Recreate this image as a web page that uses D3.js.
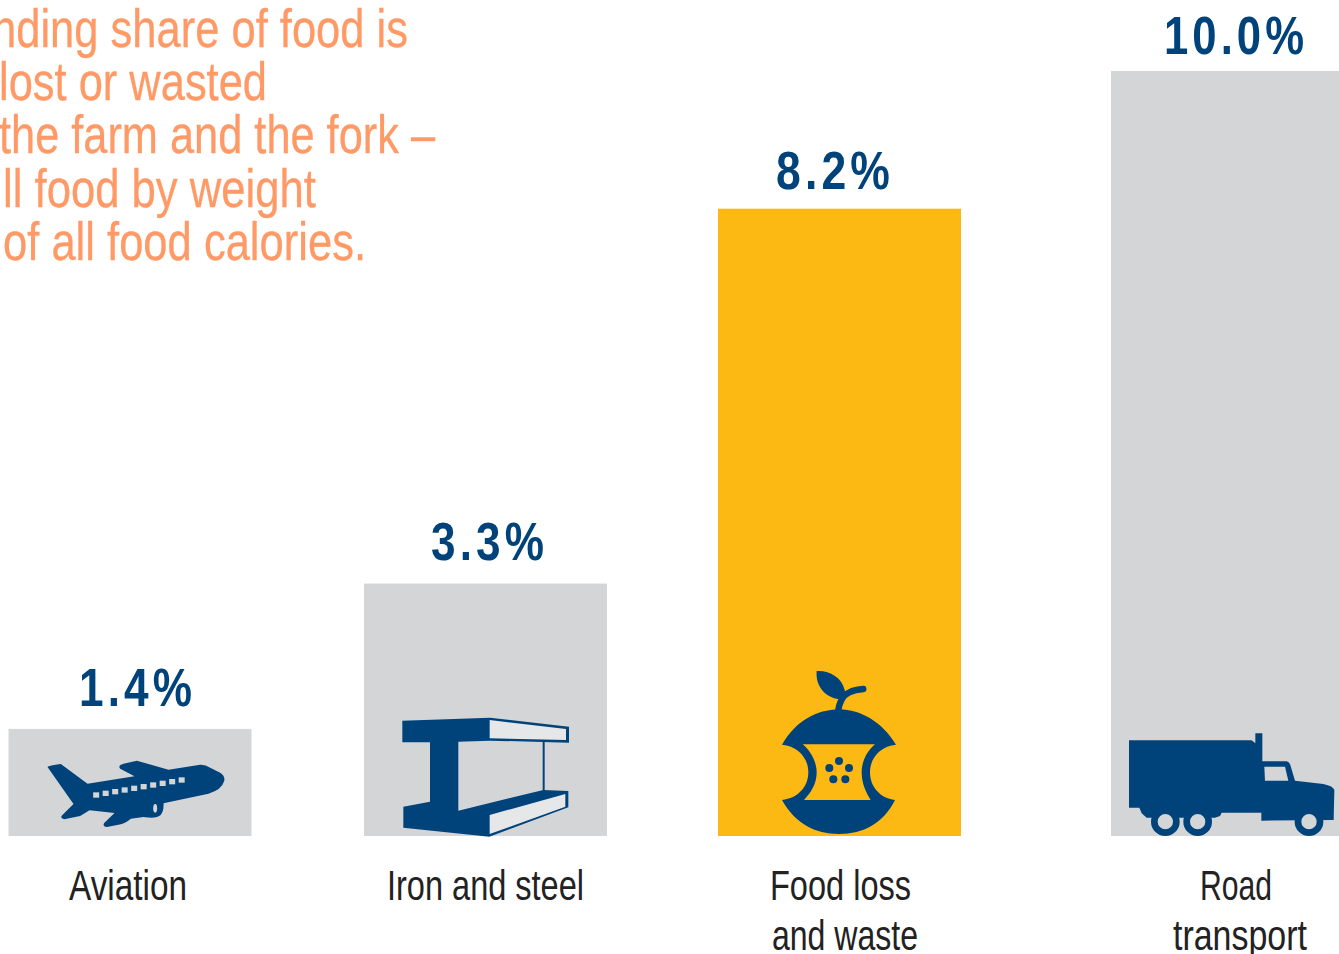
<!DOCTYPE html>
<html>
<head>
<meta charset="utf-8">
<script src="https://cdn.jsdelivr.net/npm/d3@7/dist/d3.min.js"></script>
<style>
html,body{margin:0;padding:0;background:#fff;overflow:hidden}
svg{display:block}
text{font-family:"Liberation Sans Narrow","Liberation Sans",Arial,sans-serif}
</style>
</head>
<body>
<svg id="chart" width="1339" height="954"></svg>
<script>
// Emission shares by sector
const categories = ["Aviation", "Iron and steel", "Food loss and waste", "Road transport"];
const shares = [1.4, 3.3, 8.2, 10.0];
const valueLabels = ["1.4%", "3.3%", "8.2%", "10.0%"];
const categoryLines = [["Aviation"], ["Iron and steel"], ["Food loss", "and waste"], ["Road", "transport"]];
const noteLines = ["nding share of food is", "lost or wasted", "the farm and the fork –", "ll food by weight", "of all food calories."];

// Layout
const barLefts = [8.5, 364, 718, 1111];
const barWidth = 243;
const baseline = 836, topY = 71;
const valueSpans = [[79, 196], [431, 548], [776, 894], [1164, 1308]];
const valueGaps = [23, 24, 20, 17];
const categorySpans = [[[69, 187]], [[387, 584]], [[770, 911], [772, 918]], [[1200, 1272], [1173, 1307]]];
const noteSpans = [[-8, 408], [-1, 267], [-1, 435], [3, 316], [3, 366]];
const noteBaselines = [47, 100, 153, 207, 260];

const navy = "#00437b", grey = "#d4d5d7", gold = "#fdb913", orange = "#ff9966", pale = "#e6e7e8";

const svg = d3.select("#chart");
const x = d3.scaleOrdinal().domain(categories).range(barLefts);
const y = d3.scaleLinear().domain([0, 10]).range([baseline, topY]);
const fills = d3.scaleOrdinal().domain(categories).range([grey, grey, gold, grey]);

// Text helper: fits a line to a measured horizontal span
function fitted(sel, str, span, by, size, weight, fill) {
  return sel.append("text")
    .attr("x", span[0]).attr("y", by)
    .attr("textLength", span[1] - span[0])
    .attr("lengthAdjust", "spacingAndGlyphs")
    .attr("font-size", size).attr("font-weight", weight)
    .attr("fill", fill).text(str);
}

// Bars
svg.selectAll("rect.bar").data(categories).join("rect")
  .attr("class", "bar")
  .attr("x", d => x(d))
  .attr("width", barWidth)
  .attr("y", (d, i) => y(shares[i]))
  .attr("height", (d, i) => baseline - y(shares[i]))
  .attr("fill", d => fills(d));

// Value labels, sitting above each bar with open tracking
valueLabels.forEach((t, i) =>
  fitted(svg, t, valueSpans[i], y(shares[i]) - valueGaps[i], 54, 700, navy)
    .attr("letter-spacing", 5));

// Category labels
categoryLines.forEach((lines, i) => lines.forEach((t, j) =>
  fitted(svg, t, categorySpans[i][j], 900 + j * 50, 42, 400, "#222")));

// Orange note
noteLines.forEach((t, i) => fitted(svg, t, noteSpans[i], noteBaselines[i], 54, 400, orange)
  .attr("stroke", orange).attr("stroke-width", 0.3));

// Icons are drawn at 3x and scaled down, anchored on each bar's lower-left corner
function icon(cat, ox, oy) {
  return svg.append("g").attr("transform",
    `translate(${x(cat)},${baseline}) scale(${1 / 3}) translate(${-ox},${-oy})`);
}

// Plane
const plane = icon("Aviation", 25, 557);
plane.append("path").attr("fill", navy).attr("d",
  "M142 350 Q146 345 182 341 L262 400 L403 378 L360 355 Q352 345 370 340 L410 331 L505 358 L600 343 Q615 342 630 352 L660 367 Q676 378 672 392 Q665 418 625 430 L490 459 Q492 488 476 498 Q465 505 430 500 L392 505 Q375 520 355 523 L320 530 Q306 528 312 518 L343 488 L268 480 L240 497 L192 507 Q178 503 186 495 L220 461 Z");
plane.append("g").selectAll("rect").data(d3.range(10)).join("rect")
  .attr("x", i => 279 + i * 28.5).attr("y", i => 426 - i * 5)
  .attr("width", 18).attr("height", 16).attr("fill", grey);
plane.append("ellipse").attr("cx", 465).attr("cy", 474).attr("rx", 6).attr("ry", 13).attr("fill", grey);

// Steel beam
const beam = icon("Iron and steel", -48, 408);
beam.append("path").attr("fill", navy).attr("d",
  "M67 62 L330 53 L567 80 L567 128 L330 122 L235 125 L235 332 L490 270 L565 273 L565 322 L328 410 L70 383 L70 320 L150 305 L150 127 L67 127 Z");
beam.append("path").attr("fill", pale).attr("d", "M329 60 L558 87 L558 120 L329 115 Z");
beam.append("path").attr("fill", pale).attr("d", "M329 345 L556 282 L556 320 L329 402 Z");
beam.append("line").attr("x1", 491).attr("x2", 491).attr("y1", 125).attr("y2", 272)
  .attr("stroke", navy).attr("stroke-width", 6);

// Apple core
const apple = icon("Food loss and waste", -126, 528);
apple.append("path").attr("fill", navy).attr("fill-rule", "evenodd").attr("d",
  "M66 254 C110 180 170 150 237 148 C305 150 365 185 408 254 C360 258 330 295 330 337 C330 380 360 415 405 420 C370 490 310 522 237 522 C165 522 105 490 66 420 C115 415 145 380 145 337 C145 295 115 258 66 254 Z " +
  "M128 253 L345 253 C320 275 305 305 305 337 C305 370 318 398 332 420 L132 420 C155 395 170 370 170 337 C170 305 150 270 128 253 Z");
apple.append("path").attr("fill", "none").attr("stroke", navy).attr("stroke-width", 19).attr("stroke-linecap", "round")
  .attr("d", "M234 155 C238 125 250 105 268 97 C280 91 295 88 310 87");
apple.append("path").attr("fill", navy).attr("d",
  "M170 33 C205 30 245 50 254 90 C258 105 253 118 245 118 C205 118 165 85 170 33 Z");
apple.append("g").selectAll("circle")
  .data([[237, 303], [208, 324], [267, 324], [220, 358], [256, 358]]).join("circle")
  .attr("cx", d => d[0]).attr("cy", d => d[1]).attr("r", 12).attr("fill", navy);

// Truck
const truck = icon("Road transport", 3, 348);
truck.append("path").attr("fill", navy).attr("d",
  "M57 61 L425 61 L436 70 L436 40 L457 40 L457 124 L530 124 Q538 126 541 135 L555 182 L640 192 Q670 198 673 210 L671 300 L454 302 L454 278 L335 278 L330 288 L315 293 L110 293 L95 280 L88 263 L57 263 Z");
truck.append("path").attr("fill", grey).attr("d", "M463 140 L525 140 L535 182 L465 182 Z");
truck.append("g").selectAll("circle").data([166, 263, 597]).join("circle")
  .attr("cx", d => d).attr("cy", 305).attr("r", 33)
  .attr("fill", grey).attr("stroke", navy).attr("stroke-width", 20);
</script>
</body>
</html>
